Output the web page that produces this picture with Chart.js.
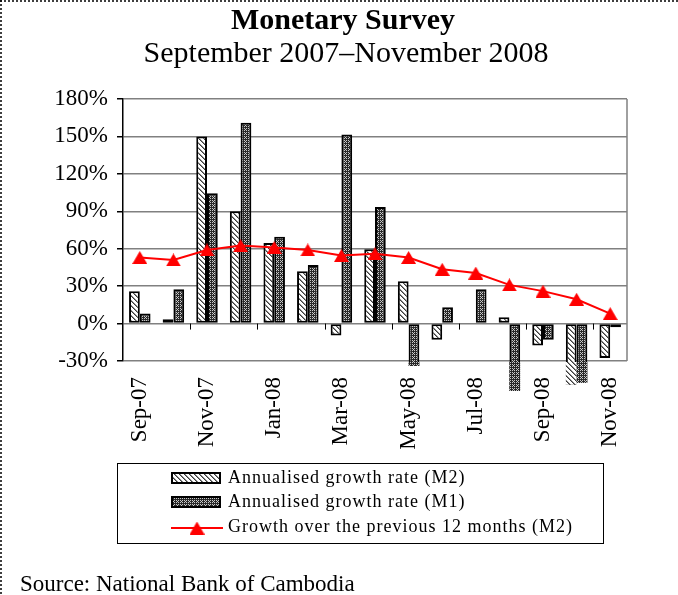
<!DOCTYPE html>
<html><head><meta charset="utf-8">
<script src="https://cdn.jsdelivr.net/npm/chart.js@4.4.1/dist/chart.umd.min.js"></script>
<style>html,body{margin:0;padding:0;background:#fff;} canvas{display:block;}</style>
</head><body>
<canvas id="c" width="678" height="595"></canvas>
<script>
const categories = ['Sep-07','Oct-07','Nov-07','Dec-07','Jan-08','Feb-08','Mar-08','Apr-08','May-08','Jun-08','Jul-08','Aug-08','Sep-08','Oct-08','Nov-08'];
const m2Annualised = [26, 3.5, 150, 90, 64.5, 42, -9.5, 59.5, 34, -13, 0, 5, -17.5, -49, -27.5];
const m1Annualised = [8, 27.5, 104.5, 161, 69.5, 47, 151.5, 93.5, -34, 13, 27.5, -54, -13, -47.5, -3];
const m2Growth12m = [53, 51, 59, 62.5, 61, 59, 54.5, 56, 53, 43.5, 40.5, 31, 26, 19.5, 8];
const yTickValues = [-30, 0, 30, 60, 90, 120, 150, 180];
const seriesNames = ['Annualised growth rate (M2)', 'Annualised growth rate (M1)', 'Growth over the previous 12 months (M2)'];
const titleText = 'Monetary Survey';
const subtitleText = 'September 2007\u2013November 2008';
const sourceText = 'Source: National Bank of Cambodia';

const FONT = "'Liberation Serif','Times New Roman',serif";
const canvas = document.getElementById('c');
const ctx0 = canvas.getContext('2d');

function makeTile(w, h, fn) {
  const c = document.createElement('canvas'); c.width = w; c.height = h;
  const x = c.getContext('2d'); const img = x.createImageData(w, h);
  for (let j = 0; j < h; j++) for (let i = 0; i < w; i++) {
    const v = fn(i, j); const k = (j * w + i) * 4;
    img.data[k] = img.data[k+1] = img.data[k+2] = v; img.data[k+3] = 255;
  }
  x.putImageData(img, 0, 0); return c;
}
const hatch = ctx0.createPattern(makeTile(5, 5, (i, j) => { const d = ((i - j) % 5 + 5) % 5; return d === 0 ? 60 : (d === 1 ? 140 : 255); }), 'repeat');
const checker = ctx0.createPattern(makeTile(4, 4, (i, j) => ((i < 3 && j < 3) && (i === j || i + j === 2)) ? 200 : 40), 'repeat');
const patterns = [hatch, checker];

function triangleImg(w, h, color) {
  const c = document.createElement('canvas'); c.width = w; c.height = h;
  const x = c.getContext('2d'); x.fillStyle = color;
  x.beginPath(); x.moveTo(w / 2, 0); x.lineTo(w, h); x.lineTo(0, h); x.closePath(); x.fill();
  return c;
}
const tri = triangleImg(15, 13, '#ff0000');

function line(ctx, x1, y1, x2, y2) { ctx.beginPath(); ctx.moveTo(x1, y1); ctx.lineTo(x2, y2); ctx.stroke(); }

const decor = {
  id: 'decor',
  beforeDatasetsDraw(chart) {
    const { ctx, chartArea: a } = chart;
    const xs = chart.scales.x, ys = chart.scales.y;
    const y0 = ys.getPixelForValue(0);
    const cw = xs.getPixelForValue(1) - xs.getPixelForValue(0);
    ctx.save();
    ctx.strokeStyle = '#000'; ctx.lineWidth = 1;
    for (let i = 2; i < categories.length; i += 2) {
      const xx = Math.round(xs.getPixelForValue(i) - cw / 2) + 0.5;
      line(ctx, xx, y0, xx, y0 + 6);
    }
    ctx.strokeStyle = '#808080'; ctx.lineWidth = 1.5;
    line(ctx, a.right, a.top, a.right, a.bottom);
    ctx.restore();
  },
  afterDatasetsDraw(chart) {
    const { ctx, chartArea: a } = chart;
    ctx.save();
    [0, 1].forEach(di => {
      chart.getDatasetMeta(di).data.forEach(el => {
        const p = el.getProps(['x', 'y', 'width'], true);
        if (p.y > a.bottom + 1) {
          ctx.fillStyle = patterns[di];
          ctx.fillRect(p.x - p.width / 2, a.bottom + 1, p.width, p.y - a.bottom - 1);
        }
      });
    });
    ctx.restore();
  },
  afterDraw(chart) {
    const ctx = chart.ctx;
    ctx.save();
    ctx.setLineDash([2, 2]); ctx.strokeStyle = '#000'; ctx.lineWidth = 1.5;
    line(ctx, 0, 1, 678, 1); line(ctx, 1, 0, 1, 595);
    ctx.setLineDash([]);
    ctx.fillStyle = '#000'; ctx.textAlign = 'center'; ctx.textBaseline = 'alphabetic';
    ctx.font = 'bold 30px ' + FONT; ctx.fillText(titleText, 343, 29);
    ctx.font = '30px ' + FONT; ctx.fillText(subtitleText, 346, 62);
    ctx.strokeStyle = '#000'; ctx.lineWidth = 1;
    ctx.strokeRect(117.5, 463.5, 486, 80);
    const rows = [478, 502, 527];
    [0, 1].forEach(k => {
      ctx.fillStyle = patterns[k]; ctx.fillRect(171, rows[k] - 6, 50, 12);
      ctx.lineWidth = 2; ctx.strokeStyle = '#000'; ctx.strokeRect(172, rows[k] - 5, 48, 10);
    });
    ctx.strokeStyle = '#ff0000'; ctx.lineWidth = 2; line(ctx, 171, rows[2] + 1, 223, rows[2] + 1);
    ctx.drawImage(tri, 197 - 7.5, rows[2] + 1 - 6.5);
    ctx.fillStyle = '#000'; ctx.textAlign = 'left'; ctx.textBaseline = 'middle';
    ctx.font = '18px ' + FONT;
    try { ctx.letterSpacing = '1px'; } catch (e) {}
    seriesNames.forEach((s, k) => ctx.fillText(s, 228, rows[k]));
    try { ctx.letterSpacing = '0px'; } catch (e) {}
    ctx.textBaseline = 'alphabetic'; ctx.font = '23px ' + FONT;
    ctx.fillText(sourceText, 20, 591);
    ctx.restore();
  }
};

new Chart(ctx0, {
  data: {
    labels: categories,
    datasets: [
      { type: 'bar', label: seriesNames[0], data: m2Annualised, backgroundColor: hatch, borderColor: '#000', borderWidth: 2, borderSkipped: false, order: 1, clip: false },
      { type: 'bar', label: seriesNames[1], data: m1Annualised, backgroundColor: checker, borderColor: '#000', borderWidth: 2, borderSkipped: false, order: 1, clip: false },
      { type: 'line', label: seriesNames[2], data: m2Growth12m, borderColor: '#ff0000', borderWidth: 2, pointStyle: tri, pointRadius: 7, tension: 0, order: 0 }
    ]
  },
  options: {
    responsive: false, animation: false, devicePixelRatio: 1,
    layout: { padding: { top: 99, left: 0, right: 51, bottom: 0 } },
    plugins: { legend: { display: false }, tooltip: { enabled: false }, title: { display: false } },
    datasets: { bar: { categoryPercentage: 0.64, barPercentage: 1 } },
    scales: {
      x: {
        type: 'category', offset: true,
        grid: { display: false, drawTicks: false }, border: { display: false },
        ticks: { autoSkip: false, maxRotation: 90, minRotation: 90, padding: 16, color: '#000',
          font: { family: FONT, size: 23 },
          callback: (v, i) => (i % 2 === 0 ? categories[i] : '') },
        afterFit: s => { s.height = 234; }
      },
      y: {
        min: -30, max: 180,
        afterBuildTicks: s => { s.ticks = yTickValues.map(v => ({ value: v })); },
        ticks: { color: '#000', padding: 9, font: { family: FONT, size: 23 }, callback: v => v + '%' },
        grid: { color: '#808080', lineWidth: 1.5, tickColor: '#000', tickLength: 6 },
        border: { color: '#000', width: 1.5 },
        afterFit: s => { s.width = 123; }
      }
    }
  },
  plugins: [decor]
});
</script>
</body></html>
